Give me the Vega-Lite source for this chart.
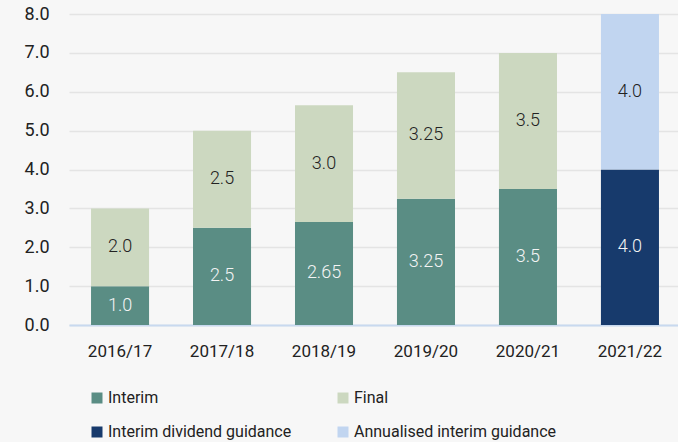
{
  "$schema": "https://vega.github.io/schema/vega-lite/v6.json",
  "width": 612,
  "height": 311,
  "autosize": {"type": "none"},
  "padding": {"left": 69, "top": 14, "right": 0, "bottom": 117},
  "background": "#f7f7f7",
  "config": {
    "view": {"stroke": null},
    "axis": {"title": null},
    "axisY": {
      "values": [0, 1, 2, 3, 4, 5, 6, 7, 8],
      "format": ".1f",
      "labelFont": "Roboto",
      "labelFontSize": 18,
      "labelColor": "#222222",
      "labelPadding": 20,
      "ticks": false,
      "domain": false,
      "grid": true,
      "gridColor": "#e4e4e4",
      "gridWidth": 1.5
    }
  },
  "data": {
    "values": [
      {"year": "2016/17", "series": "Interim", "value": 1.0, "label": "1.0"},
      {"year": "2016/17", "series": "Final", "value": 2.0, "label": "2.0"},
      {"year": "2017/18", "series": "Interim", "value": 2.5, "label": "2.5"},
      {"year": "2017/18", "series": "Final", "value": 2.5, "label": "2.5"},
      {"year": "2018/19", "series": "Interim", "value": 2.65, "label": "2.65"},
      {"year": "2018/19", "series": "Final", "value": 3.0, "label": "3.0"},
      {"year": "2019/20", "series": "Interim", "value": 3.25, "label": "3.25"},
      {"year": "2019/20", "series": "Final", "value": 3.25, "label": "3.25"},
      {"year": "2020/21", "series": "Interim", "value": 3.5, "label": "3.5"},
      {"year": "2020/21", "series": "Final", "value": 3.5, "label": "3.5"},
      {"year": "2021/22", "series": "Interim dividend guidance", "value": 4.0, "label": "4.0"},
      {"year": "2021/22", "series": "Annualised interim guidance", "value": 4.0, "label": "4.0"}
    ]
  },
  "transform": [
    {"stack": "value", "groupby": ["year"], "sort": [{"field": "series", "order": "descending"}], "as": ["lo", "hi"]}
  ],
  "encoding": {
    "x": {
      "field": "year",
      "type": "nominal",
      "scale": {"paddingInner": 0.431, "paddingOuter": 0.216},
      "axis": {
        "labelAngle": 0,
        "labelFont": "Roboto",
        "labelFontSize": 17,
        "labelColor": "#222222",
        "labelPadding": 18,
        "ticks": false,
        "domainColor": "#c8d9ef",
        "domainWidth": 2,
        "grid": false
      }
    }
  },
  "layer": [
    {
      "mark": {"type": "bar"},
      "encoding": {
        "y": {
          "field": "lo",
          "type": "quantitative",
          "scale": {"domain": [0, 8], "nice": false},
          "axis": {"values": [0, 1, 2, 3, 4, 5, 6, 7, 8], "format": ".1f"}
        },
        "y2": {"field": "hi"},
        "color": {
          "field": "series",
          "type": "nominal",
          "scale": {
            "domain": ["Interim", "Final", "Interim dividend guidance", "Annualised interim guidance"],
            "range": ["#5a8d84", "#ccd8c0", "#173a6c", "#c1d5f0"]
          },
          "legend": {
            "title": null,
            "orient": "none",
            "legendX": 20,
            "legendY": 376,
            "columns": 2,
            "direction": "horizontal",
            "columnPadding": 43,
            "rowPadding": 18,
            "padding": 0,
            "symbolType": "square",
            "symbolSize": 121,
            "symbolStrokeWidth": 0,
            "labelOffset": 3,
            "labelFont": "Roboto",
            "labelFontSize": 16,
            "labelColor": "#222222",
            "labelLimit": 400
          }
        }
      }
    },
    {
      "transform": [{"fold": ["lo", "hi"], "as": ["edge", "pos"]}],
      "mark": {"type": "text", "font": "Roboto", "fontWeight": 300, "fontSize": 18, "baseline": "middle", "align": "center"},
      "encoding": {
        "y": {
          "field": "pos",
          "type": "quantitative",
          "aggregate": "mean",
          "axis": {"values": [0, 1, 2, 3, 4, 5, 6, 7, 8], "format": ".1f"}
        },
        "detail": {"field": "series"},
        "text": {"field": "label"},
        "color": {
          "condition": {"test": "datum.series === 'Interim' || datum.series === 'Interim dividend guidance'", "value": "#f4f4f4"},
          "value": "#222222"
        }
      }
    }
  ]
}
